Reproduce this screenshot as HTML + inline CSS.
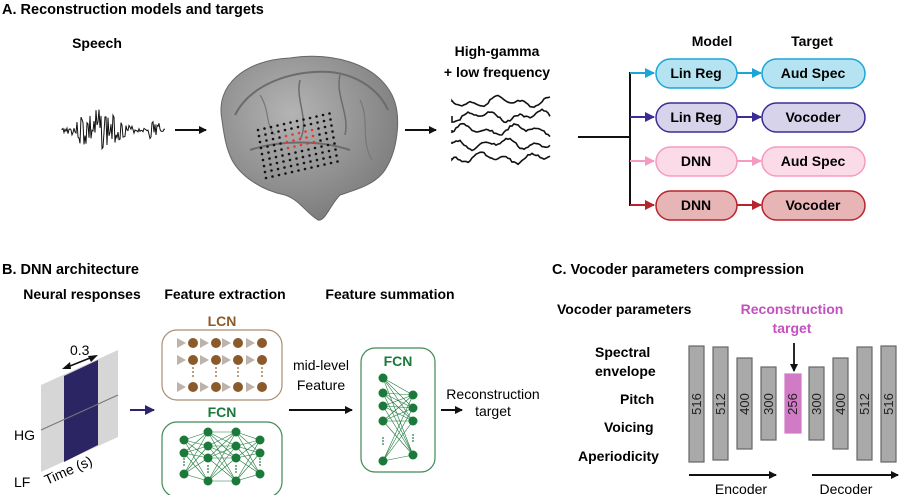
<!DOCTYPE html>
<html><head><meta charset="utf-8"><style>
html,body{margin:0;padding:0;background:#fff}
svg{display:block;font-family:"Liberation Sans",sans-serif}
.b{font-weight:bold}
</style></head><body>
<svg id="s" width="900" height="495" viewBox="0 0 900 495" xmlns="http://www.w3.org/2000/svg">
<defs>
<marker id="ak" markerWidth="8" markerHeight="8" refX="7" refY="4" orient="auto" markerUnits="userSpaceOnUse"><path d="M0,0 L8,4 L0,8 z" fill="#111"/></marker>
<marker id="ab" markerWidth="10" markerHeight="10" refX="9" refY="5" orient="auto" markerUnits="userSpaceOnUse"><path d="M0,0 L10,5 L0,10 z" fill="#1ca6d6"/></marker>
<marker id="ap" markerWidth="10" markerHeight="10" refX="9" refY="5" orient="auto" markerUnits="userSpaceOnUse"><path d="M0,0 L10,5 L0,10 z" fill="#3a2e96"/></marker>
<marker id="apk" markerWidth="10" markerHeight="10" refX="9" refY="5" orient="auto" markerUnits="userSpaceOnUse"><path d="M0,0 L10,5 L0,10 z" fill="#f59ac0"/></marker>
<marker id="ar" markerWidth="10" markerHeight="10" refX="9" refY="5" orient="auto" markerUnits="userSpaceOnUse"><path d="M0,0 L10,5 L0,10 z" fill="#b8242c"/></marker>
<marker id="an" markerWidth="10" markerHeight="10" refX="9" refY="5" orient="auto" markerUnits="userSpaceOnUse"><path d="M0,0 L10,5 L0,10 z" fill="#2b2470"/></marker>
<radialGradient id="bg" cx="0.4" cy="0.35" r="0.7"><stop offset="0" stop-color="#b4b4b4"/><stop offset="1" stop-color="#7a7a7a"/></radialGradient>
</defs>

<!-- Panel A -->
<text x="2" y="14" class="b" font-size="14.5">A. Reconstruction models and targets</text>
<text x="97" y="48" class="b" font-size="14" text-anchor="middle">Speech</text>
<g id="wave"></g>
<line x1="175" y1="130" x2="206" y2="130" stroke="#111" stroke-width="2" marker-end="url(#ak)"/>
<!-- brain -->
<path d="M222,120 C215,85 245,60 290,58 C330,52 375,62 392,95 C402,115 398,150 385,170 C375,185 355,190 340,195 C330,205 325,222 318,220 C305,212 300,200 285,195 C260,190 240,175 232,160 C226,148 224,135 222,120 z" fill="url(#bg)" stroke="#666" stroke-width="1"/>
<path d="M235,115 C250,85 290,70 330,72 C360,75 380,92 388,110" fill="none" stroke="#6c6c6c" stroke-width="2"/>
<path d="M250,150 C280,140 320,140 350,150" fill="none" stroke="#6c6c6c" stroke-width="2"/>
<path d="M300,80 C295,100 310,120 300,140" fill="none" stroke="#6c6c6c" stroke-width="1.5"/>
<path d="M340,75 C335,95 350,115 345,135" fill="none" stroke="#6c6c6c" stroke-width="1.5"/>
<path d="M260,95 C270,110 265,125 275,135" fill="none" stroke="#777" stroke-width="1.2"/>
<path d="M360,100 C370,120 360,140 372,160" fill="none" stroke="#777" stroke-width="1.2"/>
<g id="grid"></g>
<line x1="405" y1="130" x2="436" y2="130" stroke="#111" stroke-width="2" marker-end="url(#ak)"/>
<text x="497" y="56" class="b" font-size="14" text-anchor="middle">High-gamma</text>
<text x="497" y="77" class="b" font-size="14" text-anchor="middle">+ low frequency</text>
<g id="sig" fill="none" stroke="#111" stroke-width="1.6"></g>
<line x1="578" y1="137" x2="630" y2="137" stroke="#111" stroke-width="2"/>
<line x1="630" y1="72" x2="630" y2="206" stroke="#111" stroke-width="2"/>
<text x="712" y="46" class="b" font-size="14" text-anchor="middle">Model</text>
<text x="812" y="46" class="b" font-size="14" text-anchor="middle">Target</text>
<g font-size="14" class="b" text-anchor="middle">
<line x1="630" y1="73" x2="654" y2="73" stroke="#1ca6d6" stroke-width="2" marker-end="url(#ab)"/>
<rect x="656" y="59" width="81" height="29" rx="14.5" fill="#b5e3f2" stroke="#1ca6d6" stroke-width="1.5"/>
<line x1="737" y1="73" x2="761" y2="73" stroke="#1ca6d6" stroke-width="2" marker-end="url(#ab)"/>
<rect x="762" y="59" width="103" height="29" rx="14.5" fill="#b5e3f2" stroke="#1ca6d6" stroke-width="1.5"/>
<text x="696" y="78">Lin Reg</text><text x="813" y="78">Aud Spec</text>

<line x1="630" y1="117" x2="654" y2="117" stroke="#3a2e96" stroke-width="2" marker-end="url(#ap)"/>
<rect x="656" y="103" width="81" height="29" rx="14.5" fill="#d6d3ea" stroke="#3a2e96" stroke-width="1.5"/>
<line x1="737" y1="117" x2="761" y2="117" stroke="#3a2e96" stroke-width="2" marker-end="url(#ap)"/>
<rect x="762" y="103" width="103" height="29" rx="14.5" fill="#d6d3ea" stroke="#3a2e96" stroke-width="1.5"/>
<text x="696" y="122">Lin Reg</text><text x="813" y="122">Vocoder</text>

<line x1="630" y1="161" x2="654" y2="161" stroke="#f59ac0" stroke-width="2" marker-end="url(#apk)"/>
<rect x="656" y="147" width="81" height="29" rx="14.5" fill="#fcdbe8" stroke="#f59ac0" stroke-width="1.5"/>
<line x1="737" y1="161" x2="761" y2="161" stroke="#f59ac0" stroke-width="2" marker-end="url(#apk)"/>
<rect x="762" y="147" width="103" height="29" rx="14.5" fill="#fcdbe8" stroke="#f59ac0" stroke-width="1.5"/>
<text x="696" y="166">DNN</text><text x="813" y="166">Aud Spec</text>

<line x1="630" y1="205" x2="654" y2="205" stroke="#b8242c" stroke-width="2" marker-end="url(#ar)"/>
<rect x="656" y="191" width="81" height="29" rx="14.5" fill="#e8b5b7" stroke="#b8242c" stroke-width="1.5"/>
<line x1="737" y1="205" x2="761" y2="205" stroke="#b8242c" stroke-width="2" marker-end="url(#ar)"/>
<rect x="762" y="191" width="103" height="29" rx="14.5" fill="#e8b5b7" stroke="#b8242c" stroke-width="1.5"/>
<text x="696" y="210">DNN</text><text x="813" y="210">Vocoder</text>
</g>

<!-- Panel B -->
<text x="2" y="274" class="b" font-size="14.5">B. DNN architecture</text>
<g class="b" font-size="14" text-anchor="middle">
<text x="82" y="299">Neural responses</text>
<text x="225" y="299">Feature extraction</text>
<text x="390" y="299">Feature summation</text>
</g>
<path d="M41,385 L118,350 L118,437 L41,472 z" fill="#d6d6d6"/>
<path d="M64,376 L98,360 L98,445 L64,462 z" fill="#2b2563"/>
<line x1="41" y1="430" x2="118" y2="395" stroke="#777" stroke-width="1"/>
<line x1="65" y1="368" x2="95" y2="356" stroke="#111" stroke-width="1.5"/>
<path d="M62,369 L70,362 L71,369 z M98,355 L88,356 L91,362 z" fill="#111"/>
<text x="70" y="355" font-size="14">0.3</text>
<text x="14" y="440" font-size="14">HG</text>
<text x="14" y="487" font-size="14">LF</text>
<text x="47" y="485" font-size="14" transform="rotate(-24 47 485)">Time (s)</text>
<line x1="130" y1="410" x2="154" y2="410" stroke="#2b2470" stroke-width="2" marker-end="url(#an)"/>

<text x="222" y="326" class="b" font-size="14" fill="#8b5a2b" text-anchor="middle">LCN</text>
<rect x="162" y="330" width="120" height="70" rx="15" fill="#fff" stroke="#a98e74" stroke-width="1.2"/>
<g id="lcn"></g>
<text x="222" y="417" class="b" font-size="14" fill="#1b7a3a" text-anchor="middle">FCN</text>
<rect x="162" y="422" width="120" height="75" rx="15" fill="#fff" stroke="#3f8a55" stroke-width="1.2"/>
<g id="fcn1"></g>

<text x="321" y="370" font-size="14" text-anchor="middle">mid-level</text>
<text x="321" y="390" font-size="14" text-anchor="middle">Feature</text>
<line x1="289" y1="410" x2="352" y2="410" stroke="#111" stroke-width="2" marker-end="url(#ak)"/>
<rect x="361" y="348" width="74" height="124" rx="14" fill="#fff" stroke="#3f8a55" stroke-width="1.2"/>
<text x="398" y="366" class="b" font-size="14" fill="#1b7a3a" text-anchor="middle">FCN</text>
<g id="fcn2"></g>
<line x1="441" y1="410" x2="462" y2="410" stroke="#111" stroke-width="2" marker-end="url(#ak)"/>
<text x="493" y="399" font-size="14" text-anchor="middle">Reconstruction</text>
<text x="493" y="416" font-size="14" text-anchor="middle">target</text>

<!-- Panel C -->
<text x="552" y="274" class="b" font-size="14.5">C. Vocoder parameters compression</text>
<g class="b" font-size="14">
<text x="557" y="314">Vocoder parameters</text>
<text x="595" y="357">Spectral</text>
<text x="595" y="376">envelope</text>
<text x="620" y="404">Pitch</text>
<text x="604" y="432">Voicing</text>
<text x="578" y="461">Aperiodicity</text>
<text x="792" y="314" fill="#c44fbf" text-anchor="middle">Reconstruction</text>
<text x="792" y="333" fill="#c44fbf" text-anchor="middle">target</text>
</g>
<line x1="794" y1="343" x2="794" y2="371" stroke="#111" stroke-width="1.8" marker-end="url(#ak)"/>
<g stroke="#666" stroke-width="1.2" fill="#a9a9a9">
<rect x="689" y="346" width="15" height="116"/>
<rect x="713" y="347" width="15" height="113"/>
<rect x="737" y="358" width="15" height="91"/>
<rect x="761" y="367" width="15" height="73"/>
<rect x="785" y="374" width="16" height="59" fill="#d17ac6" stroke="#d17ac6"/>
<rect x="809" y="367" width="15" height="73"/>
<rect x="833" y="358" width="15" height="91"/>
<rect x="857" y="347" width="15" height="113"/>
<rect x="881" y="346" width="15" height="116"/>
</g>
<g font-size="13" fill="#222">
<text transform="translate(701,404) rotate(-90)" text-anchor="middle">516</text>
<text transform="translate(725,404) rotate(-90)" text-anchor="middle">512</text>
<text transform="translate(749,404) rotate(-90)" text-anchor="middle">400</text>
<text transform="translate(773,404) rotate(-90)" text-anchor="middle">300</text>
<text transform="translate(797,404) rotate(-90)" text-anchor="middle">256</text>
<text transform="translate(821,404) rotate(-90)" text-anchor="middle">300</text>
<text transform="translate(845,404) rotate(-90)" text-anchor="middle">400</text>
<text transform="translate(869,404) rotate(-90)" text-anchor="middle">512</text>
<text transform="translate(893,404) rotate(-90)" text-anchor="middle">516</text>
</g>
<line x1="689" y1="475" x2="776" y2="475" stroke="#111" stroke-width="2" marker-end="url(#ak)"/>
<line x1="812" y1="475" x2="898" y2="475" stroke="#111" stroke-width="2" marker-end="url(#ak)"/>
<text x="741" y="494" font-size="14" text-anchor="middle">Encoder</text>
<text x="846" y="494" font-size="14" text-anchor="middle">Decoder</text>
</svg>
<script>
var NS="http://www.w3.org/2000/svg";
function el(p,t,a){var e=document.createElementNS(NS,t);for(var k in a)e.setAttribute(k,a[k]);document.getElementById(p).appendChild(e);return e;}
var d="M62,130",seed=3;function r(){seed=(seed*9301+49297)%233280;return seed/233280;}
for(var x=62;x<=165;x+=1){var env=Math.exp(-Math.pow((x-100)/22,2))*20+(x>148&&x<160?9:0)+(x>78&&x<88?8:0)+1.5;var y=130+(r()*2-1)*env;d+=" L"+x+","+y.toFixed(1);}
el("wave","path",{d:d,fill:"none",stroke:"#111","stroke-width":"1"});
for(var i=0;i<12;i++)for(var j=0;j<9;j++){var gx=258+i*6.5+j*1,gy=130+j*6-i*1.5;var red=(i>=4&&i<=8&&j>=2&&j<=4);el("grid","circle",{cx:gx,cy:gy,r:1.3,fill:red?"#e23a2e":"#111"});}
for(var k=0;k<5;k++){var s="M452,"+(102+k*14);for(var x2=452;x2<=550;x2+=2){var yy=102+k*14+Math.sin(x2*0.25+k)*3+Math.sin(x2*0.11+k*2)*3+(r()-0.5)*2;s+=" L"+x2+","+yy.toFixed(1);}el("sig","path",{d:s});}
var cx=[193,216,238,262],ry=[343,360,387];
cx.forEach(function(x){ry.forEach(function(y){el("lcn","path",{d:"M"+(x-16)+","+(y-5)+" L"+(x-7)+","+y+" L"+(x-16)+","+(y+5)+" z",fill:"#bdb3aa"});el("lcn","circle",{cx:x,cy:y,r:5,fill:"#8b5a2b"});});
for(var q=0;q<3;q++)el("lcn","circle",{cx:x,cy:368+q*4,r:0.9,fill:"#8b5a2b"});});
function net(g,cols,col,rad){for(var c=0;c<cols.length-1;c++)cols[c][1].forEach(function(a){cols[c+1][1].forEach(function(b){el(g,"line",{x1:cols[c][0],y1:a,x2:cols[c+1][0],y2:b,stroke:col,"stroke-width":"0.6"});});});
cols.forEach(function(c){c[1].forEach(function(y){el(g,"circle",{cx:c[0],cy:y,r:rad,fill:col});});});}
net("fcn1",[[184,[440,453,474]],[208,[432,446,458,481]],[236,[432,446,458,481]],[260,[440,453,474]]],"#1b7a3a",4.5);
net("fcn2",[[383,[378,393,406,421,461]],[413,[395,408,421,455]]],"#1b7a3a",4.5);
[[184,462],[208,469],[236,469],[260,462],[383,441],[413,438]].forEach(function(p){for(var q=0;q<3;q++)el(p[0]>300?"fcn2":"fcn1","circle",{cx:p[0],cy:p[1]-3+q*3,r:0.9,fill:"#1b7a3a"});});
</script>
</body></html>
